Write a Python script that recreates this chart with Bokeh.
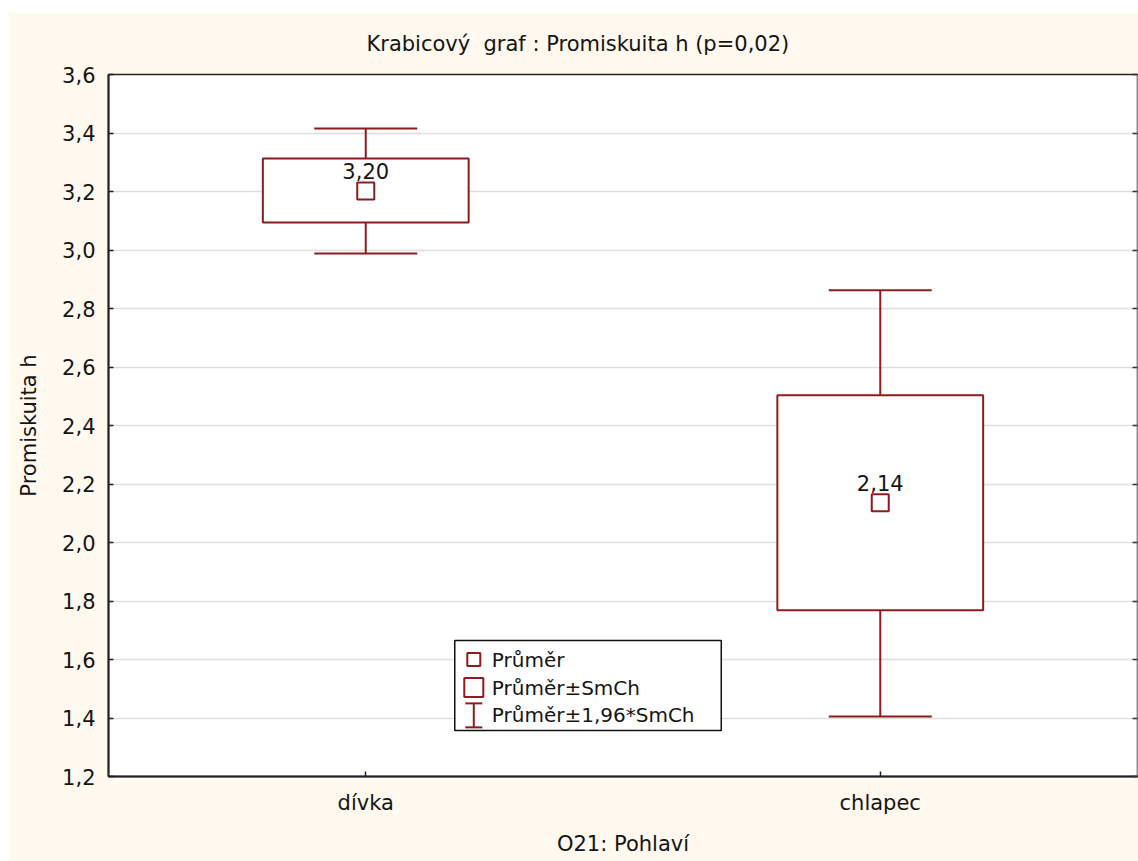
from bokeh.plotting import figure
from bokeh.models import (ColumnDataSource, Whisker, TeeHead, Label, LabelSet,
                          LinearAxis, FixedTicker, CustomJSTickFormatter,
                          Range1d, FactorRange)
from bokeh.core.properties import value
from bokeh.embed import file_html
from bokeh.resources import INLINE

# ---- data ----
categories = ["dívka", "chlapec"]
means = [3.202, 2.136]
se_low = [3.094, 1.768]
se_high = [3.313, 2.503]
ci_low = [2.988, 1.405]
ci_high = [3.415, 2.862]
y_ticks = [1.2, 1.4, 1.6, 1.8, 2.0, 2.2, 2.4, 2.6, 2.8, 3.0, 3.2, 3.4, 3.6]
legend_texts = ["Průměr", "Průměr±SmCh", "Průměr±1,96*SmCh"]
mean_labels = [f"{m:.2f}".replace(".", ",") for m in means]

title_text = "Krabicový\u00a0 graf : Promiskuita h (p=0,02)"
x_label = "O21: Pohlaví"
y_label = "Promiskuita h"

# ---- style ----
RED = "#8E1C1E"
FONT = "DejaVu Sans"
FS = "21px"
TXT = "#151515"
BG = "#FFF9EF"

p = figure(width=1130, height=849,
           x_range=FactorRange(*categories), y_range=Range1d(1.2, 3.6),
           output_backend="svg", toolbar_location=None,
           min_border_left=100, min_border_right=1,
           min_border_top=62, min_border_bottom=85)
p.margin = (12, 0, 0, 8)
p.border_fill_color = BG
p.background_fill_color = "white"
p.outline_line_color = "#222222"
p.outline_line_width = 1.5

p.title.text = title_text
p.title.align = "left"
p.title.offset = 258
p.title.standoff = 35
p.title.vertical_align = "middle"
p.title.text_font = FONT
p.title.text_font_size = FS
p.title.text_font_style = "normal"
p.title.text_color = TXT

fmt = CustomJSTickFormatter(code="return tick.toFixed(1).replace('.', ',');")
p.yaxis.ticker = FixedTicker(ticks=y_ticks)
p.yaxis.formatter = fmt
for ax in (p.xaxis[0], p.yaxis[0]):
    ax.axis_line_width = 2
    ax.axis_line_color = "#222222"
    ax.major_tick_in = 5
    ax.major_tick_out = 0
    ax.major_tick_line_color = "#222222"
    ax.major_tick_line_width = 1.5
    ax.minor_tick_line_color = None
    ax.major_label_text_font = FONT
    ax.major_label_text_font_size = FS
    ax.major_label_text_color = TXT
    ax.axis_label_text_font = FONT
    ax.axis_label_text_font_size = FS
    ax.axis_label_text_font_style = "normal"
    ax.axis_label_text_color = TXT

p.xaxis.axis_label = x_label
p.yaxis.axis_label = y_label
p.yaxis.major_label_standoff = 13
p.yaxis.axis_label_standoff = 18
p.xaxis.major_label_standoff = 14
p.xaxis.axis_label_standoff = 14

right = LinearAxis(ticker=FixedTicker(ticks=y_ticks),
                   formatter=CustomJSTickFormatter(code="return '';"),
                   major_tick_in=5, major_tick_out=0,
                   major_tick_line_color="#333333", major_tick_line_width=1.5,
                   minor_tick_line_color=None,
                   axis_line_color="#888888", axis_line_width=1,
                   major_label_standoff=0, major_label_text_font_size="1px")
p.add_layout(right, "right")

p.xgrid.visible = False
p.ygrid.ticker = FixedTicker(ticks=y_ticks)
p.ygrid.grid_line_color = "#DEDEDE"
p.ygrid.grid_line_width = 1.5

src = ColumnDataSource(dict(cat=categories, mean=means, se_low=se_low,
                            se_high=se_high, ci_low=ci_low, ci_high=ci_high,
                            label=mean_labels))

# whiskers (mean ± 1.96*SE)
wh = Whisker(source=src, base="cat", lower="ci_low", upper="ci_high",
             line_color=RED, line_width=2, level="underlay",
             upper_head=TeeHead(size=103, line_color=RED, line_width=2),
             lower_head=TeeHead(size=103, line_color=RED, line_width=2))
p.add_layout(wh)

# boxes (mean ± SE)
p.vbar(x="cat", width=0.4, bottom="se_low", top="se_high", source=src,
       fill_color="white", line_color=RED, line_width=2)

# means
p.scatter(x="cat", y="mean", source=src, marker="square", size=17,
          fill_color="white", line_color=RED, line_width=2)

p.add_layout(LabelSet(x="cat", y="mean", text="label", source=src,
                      y_offset=12, text_align="center",
                      text_baseline="alphabetic", text_font=value(FONT),
                      text_font_size=value(FS), text_color=TXT))

# ---- legend (layout positions) ----
LX0, LX1, LY0, LY1 = 0.673, 1.191, 1.357, 1.665
MARK_X = 0.710
TEXT_X = 0.745
ITEM_Y = [1.600, 1.504, 1.409]
IBEAM_LO, IBEAM_HI = 1.368, 1.450
p.quad(left=[LX0], right=[LX1], bottom=[LY0], top=[LY1],
       fill_color="white", line_color="#111111", line_width=1.5)
p.scatter(x=[MARK_X, MARK_X], y=ITEM_Y[:2], size=[13, 19], marker="square",
          fill_color="white", line_color=RED, line_width=2)
leg_src = ColumnDataSource(dict(x=[MARK_X], lo=[IBEAM_LO], hi=[IBEAM_HI]))
p.add_layout(Whisker(source=leg_src, base="x", lower="lo", upper="hi",
                     line_color=RED, line_width=2, level="annotation",
                     upper_head=TeeHead(size=17, line_color=RED, line_width=2),
                     lower_head=TeeHead(size=17, line_color=RED, line_width=2)))
for t, yy in zip(legend_texts, ITEM_Y):
    p.add_layout(Label(x=TEXT_X, y=yy, text=t, text_baseline="middle",
                       text_align="left", text_font=FONT,
                       text_font_size="20px", text_color=TXT))

open("out.html", "w").write(file_html(p, INLINE, title="Krabicový graf"))
